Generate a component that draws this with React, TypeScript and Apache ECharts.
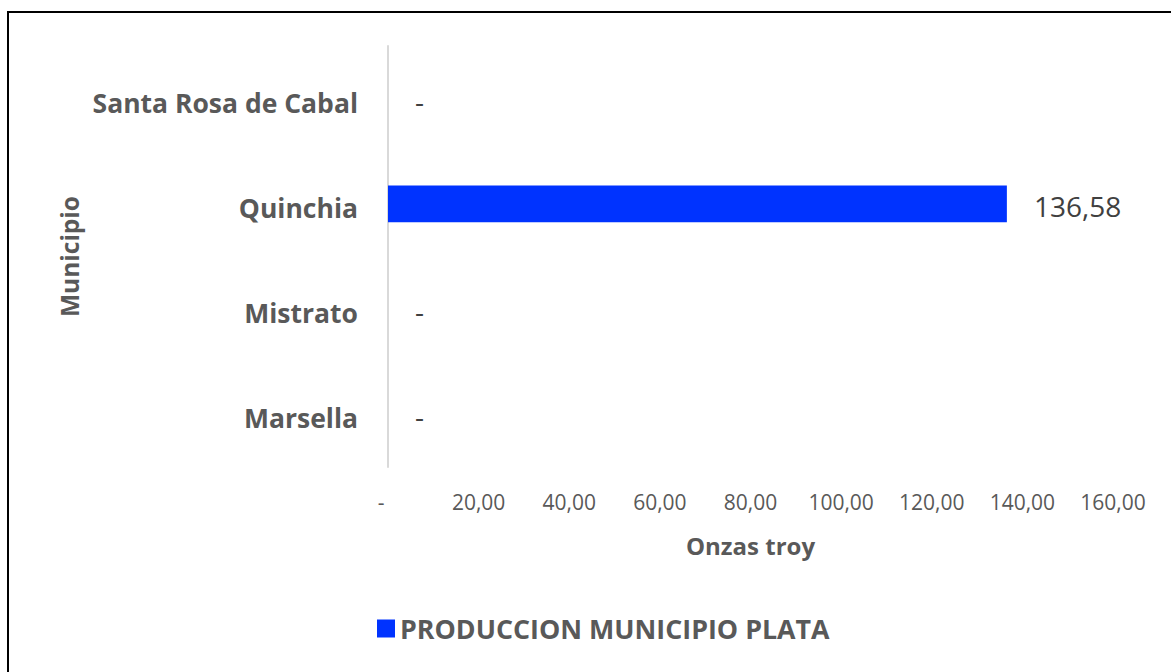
import React, { useEffect, useRef } from "react";
import * as echarts from "echarts";

const categories = ["Marsella", "Mistrato", "Quinchia", "Santa Rosa de Cabal"];
const produccionPlata = [0, 0, 136.58, 0];
const seriesName = "PRODUCCION MUNICIPIO PLATA";
const xTicks = { min: 0, max: 160, interval: 20 };

const fmt = (v: number) =>
  v === 0 ? "-" : v.toFixed(2).replace(".", ",");

export default function App() {
  const ref = useRef<HTMLDivElement>(null);
  useEffect(() => {
    if (!ref.current) return;
    const chart = echarts.init(ref.current, null, { renderer: "svg" });
    const font = "'Open Sans', sans-serif";
    chart.setOption({
      animation: false,
      textStyle: { fontFamily: font },
      graphic: [
        {
          type: "rect",
          shape: { x: 8, y: 12, width: 1180, height: 680 },
          style: { fill: "none", stroke: "#000", lineWidth: 2 },
          silent: true,
        },
      ],
      legend: {
        data: [seriesName],
        left: 372,
        top: 610,
        itemWidth: 18,
        itemHeight: 18,
        itemGap: 8,
        icon: "rect",
        textStyle: {
          fontFamily: font,
          fontWeight: "bold",
          fontSize: 26.8,
          color: "#595959",
        },
      },
      grid: { left: 388, right: 58, top: 46, bottom: 205 },
      xAxis: {
        type: "value",
        min: xTicks.min,
        max: xTicks.max,
        interval: xTicks.interval,
        axisLine: { show: false },
        axisTick: { show: false },
        splitLine: { show: false },
        axisLabel: {
          margin: 24,
          fontFamily: font,
          fontSize: 21,
          color: "#595959",
          formatter: (v: number) => (v === 0 ? "{d|-}" : fmt(v)),
          rich: {
            d: { fontFamily: font, fontSize: 21, color: "#595959", padding: [0, 14, 0, 0] },
          },
        },
        name: "Onzas troy",
        nameLocation: "middle",
        nameGap: 66,
        nameTextStyle: {
          fontFamily: font,
          fontWeight: "bold",
          fontSize: 24,
          color: "#595959",
        },
      },
      yAxis: {
        type: "category",
        data: categories,
        axisLine: { show: true, lineStyle: { color: "#d9d9d9", width: 2 } },
        axisTick: { show: false },
        axisLabel: {
          margin: 30,
          fontFamily: font,
          fontWeight: "bold",
          fontSize: 26.5,
          color: "#595959",
          formatter: (v: string) => "{c|" + v + "}",
          rich: {
            c: {
              fontFamily: font,
              fontWeight: "bold",
              fontSize: 26.5,
              color: "#595959",
              padding: [8, 0, 0, 0],
            },
          },
        },
        name: "Municipio",
        nameLocation: "middle",
        nameRotate: 90,
        nameGap: 306,
        nameTextStyle: {
          fontFamily: font,
          fontWeight: "bold",
          fontSize: 24.5,
          color: "#595959",
        },
      },
      series: [
        {
          name: seriesName,
          type: "bar",
          data: produccionPlata,
          barWidth: "35%",
          itemStyle: { color: "#0033FF" },
          label: {
            show: true,
            position: "right",
            distance: 27,
            offset: [0, 2],
            fontFamily: font,
            fontSize: 28,
            color: "#404040",
            formatter: (p: any) => fmt(p.value),
          },
        },
      ],
    });
    return () => chart.dispose();
  }, []);
  return (
    <div
      ref={ref}
      style={{ position: "absolute", left: 0, top: 0, width: 1171, height: 672, background: "#fff" }}
    />
  );
}
